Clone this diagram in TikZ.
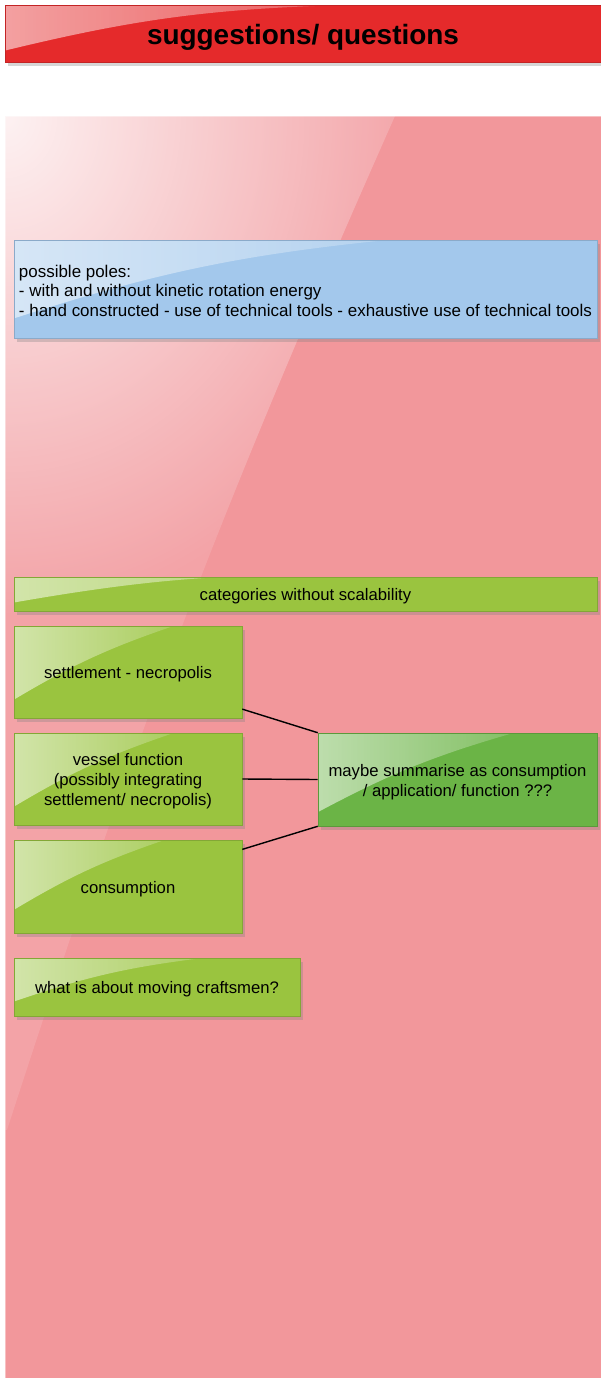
\documentclass[tikz,border=0pt]{standalone}
\usepackage{fontspec}
\setmainfont{Liberation Sans}
\usetikzlibrary{shadows,fadings,calc}
\definecolor{panelpink}{HTML}{F2979B}
\definecolor{titlered}{HTML}{E52A2B}
\definecolor{limegreen}{HTML}{9AC43F}
\definecolor{darkgreen}{HTML}{6BB446}
\definecolor{paleblue}{HTML}{A3C8EC}
\tikzfading[name=glossfade, left color=transparent!10, right color=transparent!100]
\tikzfading[name=cornerfade, inner color=transparent!5, outer color=transparent!100]
\tikzset{
  card/.style={rectangle, fill=#1, draw=#1!85!black, line width=0.35pt, inner sep=0pt,
    drop shadow={shadow xshift=1.8pt, shadow yshift=-2.2pt, opacity=0.32}},
  cardtext/.style={text=black, align=center, font=\fontsize{9.5}{11.3}\selectfont, inner sep=0pt, yshift=-1.4pt},
  txt/.style={label={[cardtext]center:{#1}}},
  gloss/.style 2 args={path picture={
    \fill[white, path fading=glossfade, fill opacity=0.62]
      (path picture bounding box.north west)
      -- ($(path picture bounding box.north west)!#1!(path picture bounding box.north east)$)
      to[bend right=6] ($(path picture bounding box.north west)!#2!(path picture bounding box.south west)$)
      -- cycle;}},
  link/.style={draw=black, line width=0.8pt},
}
\begin{document}
\begin{tikzpicture}[x=0.02cm, y=-0.02cm]
\useasboundingbox (0,0) rectangle (601,1378);
\fill[white] (0,0) rectangle (601,1378);

% panel
\fill[panelpink] (5,116) rectangle (601,1378);
\draw[panelpink!60!white, line width=0.5pt] (5,1378) -- (5,116) -- (601,116);
\begin{scope}
  \clip (5,116) -- (395,116) to[bend right=3] (7,1130) -- (5,1130) -- cycle;
  \fill[white, fill opacity=0.12] (5,116) rectangle (400,1130);
  \fill[white, path fading=cornerfade, fill opacity=0.9] (5,116) ellipse [x radius=8.4cm, y radius=10cm];
\end{scope}

% title
\node[card=titlered, gloss={0.57}{0.8}, minimum width=11.92cm, minimum height=1.14cm,
  label={[cardtext, font=\fontsize{15.9}{18}\selectfont\bfseries, yshift=-0.9pt]center:suggestions/ questions}]
  (title) at (303,33.5) {};

% blue box
\node[card=paleblue, gloss={0.64}{0.8}, minimum width=11.66cm, minimum height=1.96cm,
  label={[cardtext, align=left, font=\fontsize{9.65}{11.2}\selectfont, yshift=0.4pt]center:{possible poles:\\- with and without kinetic rotation energy\\- hand constructed - use of technical tools - exhaustive use of technical tools}}]
  (poles) at (305.5,289) {};

% green bar
\node[card=limegreen, gloss={0.64}{0.75}, minimum width=11.66cm, minimum height=0.68cm,
  txt={categories without scalability}] (cats) at (305.5,594) {};

\node[card=limegreen, gloss={0.7}{0.8}, minimum width=4.56cm, minimum height=1.84cm,
  txt={settlement - necropolis}] (settle) at (128,672) {};
\node[card=limegreen, gloss={0.7}{0.8}, minimum width=4.56cm, minimum height=1.84cm,
  txt={vessel function\\(possibly integrating\\settlement/ necropolis)}] (vessel) at (128,779) {};
\node[card=limegreen, gloss={0.66}{0.75}, minimum width=4.56cm, minimum height=1.86cm,
  txt={consumption}] (consum) at (128,886.5) {};
\node[card=limegreen, gloss={0.66}{0.75}, minimum width=5.72cm, minimum height=1.16cm,
  txt={what is about moving craftsmen?}] (craft) at (157,987) {};

\node[card=darkgreen, gloss={0.7}{0.85}, minimum width=5.58cm, minimum height=1.86cm,
  txt={maybe summarise as consumption\\/ application/ function ???}] (summ) at (457.5,779.5) {};

\draw[link] (settle.-18) -- (summ.north west);
\draw[link] (vessel.east) -- (summ.west);
\draw[link] (consum.18) -- (summ.south west);
\end{tikzpicture}
\end{document}
